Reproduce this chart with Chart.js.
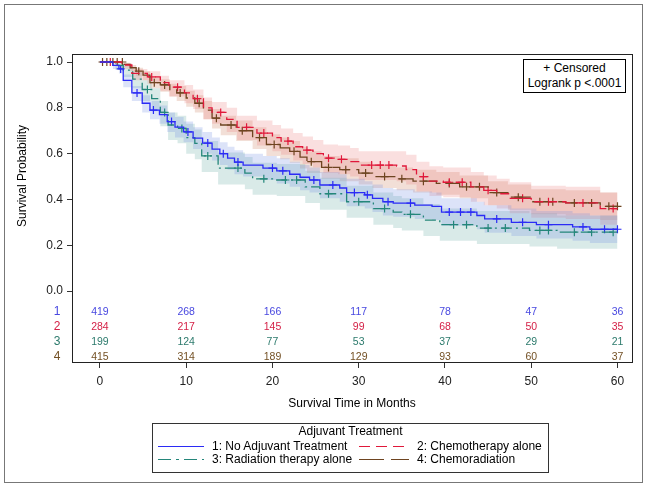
<!DOCTYPE html>
<html>
<head>
<meta charset="utf-8">
<script src="https://cdn.jsdelivr.net/npm/chart.js@4.4.1/dist/chart.umd.min.js"></script>
<style>
    body { margin: 0; background: #fff; }
    #wrap { position: relative; width: 647px; height: 487px; font-family: "Liberation Sans", Arial, sans-serif; color: #000; }
    #frame { position: absolute; left: 4px; top: 4px; width: 637px; height: 477px; border: 1px solid #777; }
    canvas { position: absolute; left: 0; top: 0; }
    .lbl { position: absolute; white-space: nowrap; font-size: 12px; }
    #ytitle { left: 22px; top: 176px; transform: translate(-50%, -50%) rotate(-90deg); }
    #xtitle { left: 352px; top: 403px; transform: translate(-50%, -50%); }
    #censorBox { position: absolute; left: 523px; top: 59px; width: 103px; height: 34px; box-sizing: border-box;
        border: 1px solid #000; background: #fff; font-size: 12px; line-height: 15px; text-align: center; padding-top: 1px; }
    #legend { position: absolute; left: 152px; top: 423px; width: 397px; height: 50px; box-sizing: border-box;
        border: 1px solid #333; background: #fff; font-size: 12px; }
    #legend .item { position: absolute; line-height: 13px; white-space: nowrap; }
    #legend svg { position: absolute; }
</style>
</head>
<body>
<div id="wrap">
    <canvas id="km" width="647" height="487"></canvas>
    <div id="frame"></div>
    <div class="lbl" id="ytitle">Survival Probability</div>
    <div class="lbl" id="xtitle">Survival Time in Months</div>
    <div id="censorBox">+ Censored<br>Logrank p &lt;.0001</div>
    <div id="legend">
        <div class="item" style="left:0;width:395px;text-align:center;top:1px;">Adjuvant Treatment</div>
        <svg style="left:5px;top:16px" width="48" height="12"><line x1="0" y1="6.5" x2="46" y2="6.5" stroke="#2b2bf5" stroke-width="1.2"/></svg>
        <div class="item" style="left:59px;top:16px;">1: No Adjuvant Treatment</div>
        <svg style="left:206px;top:16px" width="52" height="12"><line x1="0" y1="6.5" x2="50" y2="6.5" stroke="#e0183a" stroke-width="1.2" stroke-dasharray="11,6"/></svg>
        <div class="item" style="left:264px;top:16px;">2: Chemotherapy alone</div>
        <svg style="left:5px;top:29px" width="48" height="12"><line x1="0" y1="6.5" x2="46" y2="6.5" stroke="#24867a" stroke-width="1.2" stroke-dasharray="13,5,3,5"/></svg>
        <div class="item" style="left:59px;top:29px;">3: Radiation therapy alone</div>
        <svg style="left:206px;top:29px" width="52" height="12"><line x1="0" y1="6.5" x2="50" y2="6.5" stroke="#6e4420" stroke-width="1.2" stroke-dasharray="25,7"/></svg>
        <div class="item" style="left:264px;top:29px;">4: Chemoradiation</div>
    </div>
</div>
<script>
// ===== DATA =====
const xTicks = [0, 10, 20, 30, 40, 50, 60];
const yTicks = [0, 0.2, 0.4, 0.6, 0.8, 1.0];
const groupNames = ["1", "2", "3", "4"];

// 1: No Adjuvant Treatment
const time1 = [0, 1.5, 2.2, 2.7, 3.7, 4.9, 5.8, 6.9, 7.8, 8.7, 9.7, 10.8, 11.9, 13.0, 13.9, 14.8, 15.6, 16.6, 18.9, 20.5, 22.0, 23.2, 24.3, 25.5, 27.8, 28.6, 30.7, 31.6, 32.8, 34.0, 36.5, 38.5, 39.6, 43.7, 44.6, 47.7, 50.6, 54.8, 56.8, 60];
const surv1 = [1.0, 0.985, 0.97, 0.92, 0.865, 0.82, 0.79, 0.77, 0.74, 0.716, 0.695, 0.668, 0.646, 0.62, 0.60, 0.58, 0.563, 0.55, 0.537, 0.525, 0.51, 0.497, 0.485, 0.463, 0.45, 0.43, 0.42, 0.405, 0.39, 0.384, 0.375, 0.37, 0.345, 0.33, 0.315, 0.30, 0.29, 0.28, 0.27, 0.27];
const lower1 = [1.0, 0.97, 0.95, 0.89, 0.83, 0.78, 0.75, 0.73, 0.695, 0.67, 0.65, 0.62, 0.60, 0.57, 0.55, 0.53, 0.51, 0.50, 0.485, 0.47, 0.455, 0.44, 0.43, 0.405, 0.39, 0.37, 0.36, 0.345, 0.33, 0.325, 0.315, 0.31, 0.285, 0.27, 0.255, 0.24, 0.23, 0.22, 0.21, 0.21];
const upper1 = [1.0, 0.995, 0.985, 0.945, 0.895, 0.855, 0.83, 0.81, 0.78, 0.76, 0.74, 0.715, 0.695, 0.67, 0.65, 0.63, 0.615, 0.60, 0.59, 0.58, 0.565, 0.55, 0.54, 0.52, 0.51, 0.49, 0.48, 0.465, 0.45, 0.445, 0.435, 0.43, 0.405, 0.39, 0.375, 0.36, 0.35, 0.34, 0.33, 0.33];
const censor1 = [2.4, 4.3, 6.2, 8.3, 10.2, 12.5, 14.3, 16.0, 20.0, 21.2, 24.8, 27.0, 29.5, 31.0, 33.4, 36.0, 40.5, 41.8, 43.0, 46.0, 49.0, 52.0, 56.0, 58.5, 60];

// 2: Chemotherapy alone
const time2 = [0, 2.5, 3.7, 5.5, 7.0, 8.0, 9.8, 10.8, 12.0, 13.0, 14.7, 15.9, 18.2, 20.0, 21.0, 22.4, 23.5, 24.7, 25.9, 27.6, 29.0, 30.0, 34.4, 35.5, 36.7, 38.2, 39.8, 43.0, 44.5, 46.0, 47.5, 50.0, 54.0, 58.0, 60];
const surv2 = [1.0, 0.987, 0.95, 0.935, 0.91, 0.89, 0.865, 0.84, 0.80, 0.78, 0.75, 0.715, 0.69, 0.67, 0.655, 0.63, 0.615, 0.60, 0.58, 0.575, 0.565, 0.55, 0.546, 0.53, 0.50, 0.48, 0.475, 0.455, 0.44, 0.425, 0.405, 0.39, 0.385, 0.36, 0.36];
const lower2 = [1.0, 0.97, 0.92, 0.905, 0.875, 0.85, 0.82, 0.795, 0.75, 0.73, 0.695, 0.66, 0.635, 0.61, 0.595, 0.57, 0.555, 0.54, 0.515, 0.51, 0.50, 0.485, 0.48, 0.465, 0.435, 0.415, 0.41, 0.39, 0.375, 0.36, 0.34, 0.32, 0.315, 0.29, 0.29];
const upper2 = [1.0, 0.995, 0.97, 0.96, 0.94, 0.92, 0.90, 0.88, 0.845, 0.825, 0.80, 0.765, 0.745, 0.725, 0.71, 0.69, 0.675, 0.66, 0.64, 0.635, 0.625, 0.61, 0.61, 0.595, 0.565, 0.545, 0.54, 0.52, 0.505, 0.49, 0.475, 0.46, 0.455, 0.43, 0.43];
const censor2 = [1.2, 6.0, 9.0, 11.3, 14.0, 17.0, 19.0, 21.8, 24.0, 26.5, 28.0, 31.5, 32.5, 33.5, 37.5, 40.5, 42.0, 45.0, 49.0, 52.0, 56.0, 59.5];

// 3: Radiation therapy alone
const time3 = [0, 1.8, 2.7, 3.8, 4.9, 6.0, 7.0, 7.9, 9.0, 10.0, 11.0, 11.8, 13.7, 16.8, 17.7, 20.5, 23.8, 25.5, 28.6, 31.7, 34.0, 35.0, 37.5, 39.4, 43.7, 49.8, 53.0, 60];
const surv3 = [1.0, 0.985, 0.965, 0.925, 0.88, 0.84, 0.78, 0.725, 0.71, 0.67, 0.645, 0.59, 0.537, 0.515, 0.49, 0.485, 0.455, 0.425, 0.39, 0.36, 0.345, 0.335, 0.31, 0.29, 0.275, 0.265, 0.257, 0.257];
const lower3 = [1.0, 0.965, 0.935, 0.885, 0.83, 0.785, 0.72, 0.66, 0.645, 0.60, 0.575, 0.52, 0.465, 0.445, 0.42, 0.415, 0.385, 0.355, 0.32, 0.29, 0.275, 0.265, 0.24, 0.22, 0.205, 0.195, 0.185, 0.185];
const upper3 = [1.0, 0.995, 0.985, 0.955, 0.92, 0.885, 0.83, 0.78, 0.765, 0.73, 0.705, 0.655, 0.605, 0.585, 0.56, 0.555, 0.525, 0.495, 0.46, 0.43, 0.415, 0.405, 0.38, 0.36, 0.35, 0.34, 0.33, 0.33];
const censor3 = [5.5, 7.5, 9.5, 12.5, 16.0, 19.0, 21.5, 22.8, 26.5, 30.0, 33.0, 36.0, 41.0, 42.5, 45.0, 47.0, 51.0, 52.0, 55.0, 57.0, 59.5];

// 4: Chemoradiation
const time4 = [0, 2.8, 3.5, 4.2, 5.0, 5.8, 7.0, 8.1, 8.9, 10.0, 11.0, 12.0, 13.0, 14.0, 15.8, 17.7, 19.3, 20.9, 22.0, 23.2, 24.0, 25.7, 27.8, 30.0, 31.6, 34.4, 36.3, 39.0, 41.7, 45.0, 47.3, 50.0, 54.0, 58.0, 60];
const surv4 = [1.0, 0.99, 0.975, 0.96, 0.943, 0.91, 0.90, 0.88, 0.865, 0.843, 0.82, 0.79, 0.755, 0.725, 0.70, 0.67, 0.64, 0.625, 0.61, 0.585, 0.565, 0.54, 0.53, 0.515, 0.50, 0.49, 0.48, 0.47, 0.455, 0.43, 0.41, 0.39, 0.385, 0.37, 0.37];
const lower4 = [1.0, 0.98, 0.96, 0.94, 0.92, 0.885, 0.87, 0.85, 0.83, 0.805, 0.78, 0.75, 0.71, 0.68, 0.655, 0.62, 0.59, 0.575, 0.56, 0.535, 0.515, 0.49, 0.48, 0.465, 0.45, 0.44, 0.43, 0.42, 0.405, 0.375, 0.355, 0.335, 0.33, 0.31, 0.31];
const upper4 = [1.0, 0.997, 0.987, 0.975, 0.96, 0.935, 0.925, 0.905, 0.895, 0.875, 0.855, 0.83, 0.795, 0.765, 0.745, 0.715, 0.685, 0.67, 0.655, 0.63, 0.61, 0.59, 0.58, 0.565, 0.55, 0.54, 0.53, 0.52, 0.505, 0.48, 0.465, 0.445, 0.44, 0.43, 0.43];
const censor4 = [0.3, 0.8, 1.5, 2.0, 2.6, 4.5, 6.3, 7.5, 9.3, 11.5, 13.5, 15.2, 16.5, 18.5, 20.2, 22.5, 24.5, 26.5, 28.5, 30.8, 33.0, 35.0, 37.5, 40.5, 42.5, 44.0, 46.0, 48.5, 51.0, 52.5, 55.0, 57.0, 59.0, 60];

// number at risk at xTicks
const atRisk1 = [419, 268, 166, 117, 78, 47, 36];
const atRisk2 = [284, 217, 145, 99, 68, 50, 35];
const atRisk3 = [199, 124, 77, 53, 37, 29, 21];
const atRisk4 = [415, 314, 189, 129, 93, 60, 37];

// ===== STYLES =====
const FONT = "'Liberation Sans', Arial, sans-serif";
const lineColors = ["#2b2bf5", "#e0183a", "#24867a", "#6e4420"];
const textColors = ["#4848e0", "#d42046", "#2c7a6c", "#735024"];
const bandColors = ["rgba(110,140,225,0.24)", "rgba(235,120,120,0.24)", "rgba(110,175,165,0.26)", "rgba(205,130,100,0.26)"];
const dashes = [[], [9, 5], [11, 4, 2, 4], [20, 6]];

const groups = [
    { time: time1, surv: surv1, lower: lower1, upper: upper1, censor: censor1, risk: atRisk1 },
    { time: time2, surv: surv2, lower: lower2, upper: upper2, censor: censor2, risk: atRisk2 },
    { time: time3, surv: surv3, lower: lower3, upper: upper3, censor: censor3, risk: atRisk3 },
    { time: time4, surv: surv4, lower: lower4, upper: upper4, censor: censor4, risk: atRisk4 },
];

function pts(times, vals) {
    return times.map((t, i) => ({ x: t, y: vals[i] }));
}

// survival value at time t (step function)
function survAt(g, t) {
    let v = g.surv[0];
    for (let i = 0; i < g.time.length; i++) {
        if (g.time[i] <= t) v = g.surv[i];
    }
    return v;
}

const datasets = [];

// curves
groups.forEach((g, i) => {
    datasets.push({
        data: pts(g.time, g.surv),
        stepped: true,
        borderColor: lineColors[i],
        borderWidth: 1.3,
        borderDash: dashes[i],
        pointRadius: 0,
        fill: false,
    });
});

// censor marks
groups.forEach((g, i) => {
    datasets.push({
        data: g.censor.map(t => ({ x: t, y: survAt(g, t) })),
        showLine: false,
        pointStyle: "cross",
        pointRadius: 4,
        pointBorderWidth: 1.2,
        pointBorderColor: lineColors[i],
        pointBackgroundColor: lineColors[i],
    });
});

// confidence bands
groups.forEach((g, i) => {
    datasets.push({
        data: pts(g.time, g.upper),
        stepped: true,
        borderWidth: 0,
        pointRadius: 0,
        fill: false,
    });
    datasets.push({
        data: pts(g.time, g.lower),
        stepped: true,
        borderWidth: 0,
        pointRadius: 0,
        fill: "-1",
        backgroundColor: bandColors[i],
    });
});

// ===== PLUGINS =====
const framePlugin = {
    id: "frame",
    afterDraw(chart) {
        const a = chart.chartArea;
        const ctx = chart.ctx;
        ctx.save();
        ctx.strokeStyle = "#222";
        ctx.lineWidth = 1;
        ctx.strokeRect(Math.round(a.left) + 0.5, Math.round(a.top) + 0.5,
            Math.round(a.right - a.left) - 1, Math.round(a.bottom - a.top) - 1);
        ctx.restore();
    }
};

const rowY = [312, 327, 342, 357];
const atRiskPlugin = {
    id: "atRisk",
    afterDraw(chart) {
        const ctx = chart.ctx;
        const x = chart.scales.x;
        ctx.save();
        ctx.textAlign = "center";
        ctx.textBaseline = "middle";
        groups.forEach((g, i) => {
            ctx.fillStyle = textColors[i];
            ctx.font = "12px " + FONT;
            ctx.fillText(groupNames[i], 57, rowY[i]);
            ctx.font = "10.5px " + FONT;
            g.risk.forEach((n, k) => {
                ctx.fillText(String(n), x.getPixelForValue(xTicks[k]), rowY[i]);
            });
        });
        ctx.restore();
    }
};

// ===== CHART =====
new Chart(document.getElementById("km"), {
    type: "line",
    data: { datasets },
    options: {
        responsive: false,
        animation: false,
        layout: { padding: { left: 0, right: 14, top: 54, bottom: 0 } },
        plugins: { legend: { display: false }, tooltip: { enabled: false } },
        scales: {
            x: {
                type: "linear",
                min: -3.24,
                max: 61.8,
                afterBuildTicks: s => { s.ticks = xTicks.map(v => ({ value: v })); },
                afterFit: s => { s.height = 124; },
                grid: { drawOnChartArea: false, tickLength: 5, color: "#333" },
                border: { display: false },
                ticks: { padding: 6, color: "#222", font: { family: FONT, size: 12 }, callback: v => String(v) },
            },
            y: {
                type: "linear",
                min: -0.314,
                max: 1.035,
                afterBuildTicks: s => { s.ticks = yTicks.map(v => ({ value: v })); },
                afterFit: s => { s.width = 72; },
                grid: { drawOnChartArea: false, tickLength: 5, color: "#333" },
                border: { display: false },
                ticks: { padding: 4, color: "#222", font: { family: FONT, size: 12 }, callback: v => v.toFixed(1) },
            },
        },
    },
    plugins: [framePlugin, atRiskPlugin],
});
</script>
</body>
</html>
